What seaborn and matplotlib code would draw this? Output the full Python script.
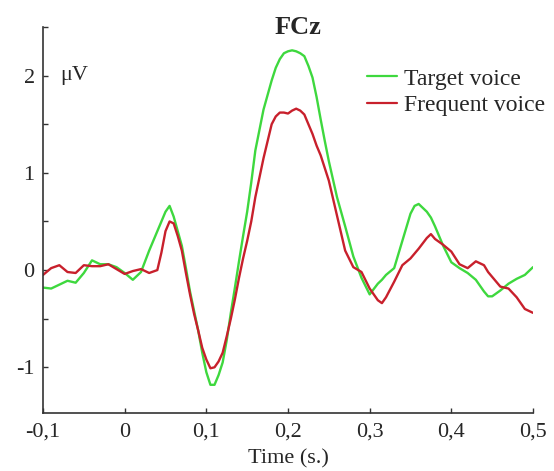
import numpy as np
import pandas as pd
import seaborn as sns
import matplotlib.pyplot as plt
from matplotlib.ticker import MultipleLocator, FixedLocator

# ERP data (time in s, amplitude in uV)
time = [-0.10, -0.09, -0.08, -0.07, -0.06, -0.05, -0.04, -0.03, -0.02, -0.01,
        0.00, 0.01, 0.02, 0.03, 0.04, 0.045, 0.05, 0.055, 0.06, 0.065, 0.07, 0.075,
        0.08, 0.085, 0.09, 0.095,
        0.10, 0.105, 0.11, 0.115, 0.12, 0.125, 0.13, 0.135, 0.14, 0.145, 0.15, 0.155,
        0.16, 0.17, 0.18, 0.185, 0.19, 0.195,
        0.20, 0.205, 0.21, 0.215, 0.22, 0.225, 0.23, 0.235, 0.24, 0.245, 0.25, 0.26,
        0.27, 0.28, 0.29, 0.30,
        0.31, 0.315, 0.32, 0.33, 0.34, 0.35, 0.355, 0.36, 0.37, 0.375, 0.38,
        0.39, 0.40, 0.41, 0.42, 0.43, 0.44, 0.445, 0.45, 0.46, 0.47, 0.48, 0.49, 0.50]

target = [-0.18, -0.19, -0.15, -0.11, -0.13, -0.03, 0.10, 0.06, 0.06, 0.03,
          -0.03, -0.10, -0.02, 0.20, 0.40, 0.50, 0.60, 0.66, 0.55, 0.40, 0.25, 0.02,
          -0.22, -0.42, -0.62, -0.85,
          -1.05, -1.18, -1.18, -1.08, -0.95, -0.72, -0.44, -0.18, 0.09, 0.35, 0.60, 0.90,
          1.23, 1.65, 1.95, 2.08, 2.17, 2.23,
          2.25, 2.26, 2.25, 2.23, 2.20, 2.10, 1.98, 1.78, 1.55, 1.33, 1.12, 0.75,
          0.45, 0.14, -0.08, -0.25,
          -0.14, -0.10, -0.05, 0.02, 0.30, 0.58, 0.66, 0.68, 0.60, 0.54, 0.45,
          0.25, 0.08, 0.02, -0.03, -0.10, -0.22, -0.27, -0.27, -0.21, -0.14, -0.09, -0.05, 0.03]

frequent = [-0.05, 0.02, 0.05, -0.02, -0.03, 0.05, 0.04, 0.04, 0.06, 0.01,
            -0.04, -0.01, 0.01, -0.03, 0.00, 0.18, 0.40, 0.50, 0.48, 0.35, 0.20, -0.03,
            -0.25, -0.45, -0.62, -0.80,
            -0.92, -1.01, -1.00, -0.94, -0.85, -0.68, -0.50, -0.30, -0.08, 0.12, 0.30, 0.50,
            0.75, 1.15, 1.50, 1.58, 1.62, 1.62,
            1.61, 1.64, 1.66, 1.64, 1.60, 1.50, 1.40, 1.28, 1.18, 1.05, 0.92, 0.56,
            0.20, 0.03, -0.02, -0.19,
            -0.31, -0.34, -0.28, -0.12, 0.05, 0.12, 0.17, 0.22, 0.33, 0.37, 0.32,
            0.26, 0.19, 0.06, 0.02, 0.09, 0.05, -0.02, -0.07, -0.17, -0.19, -0.28, -0.40, -0.44]

conditions = ['Target voice', 'Frequent voice']
colors = ['#3ed83e', '#c8202c']
xticks = [-0.1, 0, 0.1, 0.2, 0.3, 0.4, 0.5]
xtick_labels = ['-0,1', '0', '0,1', '0,2', '0,3', '0,4', '0,5']
yticks = [-1, 0, 1, 2]
ytick_labels = ['-1', '0', '1', '2']

df = pd.concat([
    pd.DataFrame({'Time': time, 'uV': target, 'Condition': conditions[0]}),
    pd.DataFrame({'Time': time, 'uV': frequent, 'Condition': conditions[1]}),
])

sns.set_style('ticks')
plt.rcParams['font.family'] = ['Liberation Serif', 'DejaVu Serif']

fig = plt.figure(figsize=(5.54, 4.71), dpi=100)
ax = fig.add_axes([43 / 554, 1 - 413 / 471, 490 / 554, 386 / 471])

sns.lineplot(data=df, x='Time', y='uV', hue='Condition', hue_order=conditions,
             palette=colors, linewidth=1.7, ax=ax, legend=False)

ax.set_xlim(-0.1, 0.5)
ax.set_ylim(-1.47, 2.5)
ax.xaxis.set_major_locator(FixedLocator(xticks))
ax.set_xticklabels(xtick_labels)
ax.yaxis.set_major_locator(FixedLocator(yticks))
ax.set_yticklabels(ytick_labels)
ax.yaxis.set_minor_locator(MultipleLocator(0.5))

for side in ['top', 'right']:
    ax.spines[side].set_visible(False)
for side in ['left', 'bottom']:
    ax.spines[side].set_color('#333333')
    ax.spines[side].set_linewidth(1.2)

ax.tick_params(axis='both', which='both', direction='in', color='#333333', width=1.0)
ax.tick_params(axis='x', which='major', length=3.5, pad=7, labelsize=16)
ax.tick_params(axis='y', which='major', length=3.5, pad=6, labelsize=16)
ax.tick_params(axis='y', which='minor', length=3.5)

ax.set_xlabel('')
ax.set_ylabel('')
fig.text(288 / 554, 1 - 459 / 471, 'Time (s.)', ha='center', va='center', fontsize=16)
ax.text(0.035, 2, 'μV', transform=ax.get_yaxis_transform(), ha='left', va='center', fontsize=16)
fig.text(298 / 554, 1 - 27 / 471, 'FCz', ha='center', va='center', fontsize=19, fontweight='bold')

handles = [plt.Line2D([], [], color=c, lw=1.6) for c in colors]
ax.legend(handles, conditions, loc='center left', bbox_to_anchor=(367 / 554, 1 - 92 / 471),
          bbox_transform=fig.transFigure, frameon=False, fontsize=17, handlelength=1.25,
          handletextpad=0.3, labelspacing=0.2, borderpad=0, borderaxespad=0)

fig.savefig('out.png', dpi=100)
